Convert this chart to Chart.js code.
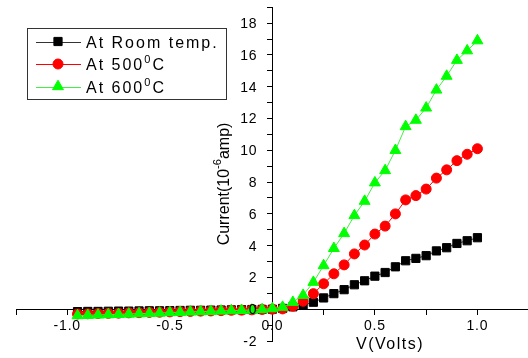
<!DOCTYPE html>
<html>
<head>
<meta charset="utf-8">
<script src="https://cdn.jsdelivr.net/npm/chart.js@4/dist/chart.umd.min.js"></script>
<style>
  html, body { margin: 0; padding: 0; background: #fff; overflow: hidden; }
  #wrap { width: 528px; height: 358px; overflow: hidden; }
</style>
</head>
<body>
<div id="wrap"><canvas id="ivChart" width="536" height="358"></canvas></div>
<script>
// voltage points (V)
const volts = [
    -0.95, -0.90, -0.85, -0.80, -0.75, -0.70, -0.65, -0.60, -0.55, -0.50,
    -0.45, -0.40, -0.35, -0.30, -0.25, -0.20, -0.15, -0.10, -0.05, 0.00,
    0.05, 0.10, 0.15, 0.20, 0.25, 0.30, 0.35, 0.40, 0.45, 0.50,
    0.55, 0.60, 0.65, 0.70, 0.75, 0.80, 0.85, 0.90, 0.95, 1.00
];

// current in 10^-6 amp
const roomTemp = [
    -0.15, -0.14, -0.14, -0.13, -0.12, -0.12, -0.11, -0.10, -0.10, -0.09,
    -0.08, -0.07, -0.07, -0.06, -0.05, -0.04, -0.03, -0.02, -0.01, 0.00,
    0.05, 0.15, 0.25, 0.44, 0.71, 0.98, 1.23, 1.54, 1.79, 2.08,
    2.31, 2.67, 3.05, 3.20, 3.37, 3.67, 3.87, 4.14, 4.31, 4.50
];
const temp500 = [
    -0.30, -0.29, -0.27, -0.26, -0.25, -0.23, -0.22, -0.20, -0.19, -0.17,
    -0.15, -0.14, -0.12, -0.11, -0.09, -0.07, -0.06, -0.04, -0.02, 0.00,
    0.02, 0.19, 0.50, 0.98, 1.60, 2.23, 2.79, 3.48, 4.04, 4.73,
    5.23, 6.00, 6.88, 7.15, 7.56, 8.25, 8.77, 9.35, 9.75, 10.10
];
const temp600 = [
    -0.40, -0.38, -0.36, -0.34, -0.32, -0.30, -0.28, -0.26, -0.24, -0.21,
    -0.19, -0.17, -0.15, -0.13, -0.11, -0.09, -0.07, -0.05, -0.02, 0.04,
    0.13, 0.44, 0.88, 1.70, 2.75, 3.83, 4.77, 5.90, 6.80, 7.96,
    8.73, 10.00, 11.50, 11.90, 12.67, 13.80, 14.67, 15.67, 16.27, 16.90
];

const seriesLabels = ["At Room temp.", "At 500", "At 600"];
const xTickLabels = ["-1.0", "-0.5", "0.0", "0.5", "1.0"];
const yTickValues = [-2, 0, 2, 4, 6, 8, 10, 12, 14, 16, 18];

const FONT = "'Liberation Sans', Arial, sans-serif";

function toPoints(ys) {
    return volts.map((v, i) => ({ x: v, y: ys[i] }));
}

function zeroSize(scale) {
    if (scale.isHorizontal()) scale.height = 0; else scale.width = 0;
    scale.paddingLeft = scale.paddingRight = scale.paddingTop = scale.paddingBottom = 0;
}

const datasets = [
    {
        label: seriesLabels[0],
        data: toPoints(roomTemp),
        borderColor: "#333333",
        backgroundColor: "#000000",
        pointBorderColor: "#000000",
        pointStyle: "rect",
        pointRadius: 5.8,
        borderWidth: 1,
        order: 2,
    },
    {
        label: seriesLabels[1],
        data: toPoints(temp500),
        borderColor: "#ff0000",
        backgroundColor: "#ff0000",
        pointBorderColor: "#ff0000",
        pointStyle: "circle",
        pointRadius: 5,
        borderWidth: 1,
        order: 1,
    },
    {
        label: seriesLabels[2],
        data: toPoints(temp600),
        borderColor: "#44ee44",
        backgroundColor: "#00ff00",
        pointBorderColor: "#00ff00",
        pointStyle: "triangle",
        pointRadius: 6.3,
        borderWidth: 1,
        order: 0,
    },
];

// legend, y tick labels, axis titles with superscripts
const decorations = {
    id: "decorations",
    beforeDraw(chart) {
        chart.ctx.letterSpacing = "0.8px";
    },
    afterDraw(chart) {
        const ctx = chart.ctx;
        const yScale = chart.scales.y;
        const xScale = chart.scales.x;
        ctx.save();

        // y tick labels, left of the axis line
        ctx.letterSpacing = "0.8px";
        ctx.font = "14px " + FONT;
        ctx.fillStyle = "#000000";
        ctx.textAlign = "right";
        ctx.textBaseline = "middle";
        const axisX = xScale.getPixelForValue(0);
        yTickValues.forEach(v => {
            ctx.fillText(String(v), axisX - 15, yScale.getPixelForValue(v) + 1);
        });

        // legend box
        ctx.letterSpacing = "2px";
        ctx.fillStyle = "#ffffff";
        ctx.fillRect(27.5, 28.5, 199, 71);
        ctx.strokeStyle = "#333333";
        ctx.lineWidth = 1;
        ctx.strokeRect(27.5, 28.5, 199, 71);

        const rowY = [41.5, 64, 86.5];
        chart.data.datasets.forEach((ds, i) => {
            const y = rowY[i];
            ctx.strokeStyle = ds.borderColor;
            ctx.lineWidth = 1;
            ctx.beginPath();
            ctx.moveTo(36, Math.round(y) + 0.5);
            ctx.lineTo(81, Math.round(y) + 0.5);
            ctx.stroke();
            ctx.fillStyle = ds.backgroundColor;
            ctx.strokeStyle = ds.pointBorderColor;
            Chart.helpers.drawPoint(ctx, {
                pointStyle: ds.pointStyle,
                radius: ds.pointRadius,
                rotation: 0,
                borderWidth: 1,
            }, 58, y);

            ctx.fillStyle = "#000000";
            ctx.textBaseline = "alphabetic";
            ctx.textAlign = "left";
            ctx.font = "16px " + FONT;
            let x = 86;
            const base = y + 6;
            ctx.fillText(ds.label, x, base);
            if (i > 0) {
                x += ctx.measureText(ds.label).width;
                ctx.font = "11px " + FONT;
                ctx.fillText("0", x, base - 7);
                x += ctx.measureText("0").width;
                ctx.font = "16px " + FONT;
                ctx.fillText("C", x, base);
            }
        });

        // x title
        ctx.letterSpacing = "1.5px";
        ctx.font = "16px " + FONT;
        ctx.textAlign = "left";
        const xt = "V(Volts)";
        ctx.fillText(xt, 390 - ctx.measureText(xt).width / 2, 349);

        // y title, rotated
        ctx.letterSpacing = "0px";
        ctx.translate(229, 184);
        ctx.rotate(-Math.PI / 2);
        const parts = [
            { t: "Current(10", f: 16, dy: 0 },
            { t: "-6", f: 11, dy: -8 },
            { t: "amp)", f: 16, dy: 0 },
        ];
        let total = 0;
        parts.forEach(p => {
            ctx.font = p.f + "px " + FONT;
            p.w = ctx.measureText(p.t).width;
            total += p.w;
        });
        let px = -total / 2;
        parts.forEach(p => {
            ctx.font = p.f + "px " + FONT;
            ctx.fillText(p.t, px, p.dy);
            px += p.w;
        });

        ctx.restore();
    },
};

new Chart(document.getElementById("ivChart"), {
    type: "line",
    data: { datasets: datasets },
    options: {
        responsive: false,
        animation: false,
        devicePixelRatio: 1,
        layout: { padding: { left: 16, right: 5, top: 5, bottom: 17 } },
        plugins: {
            legend: { display: false },
            tooltip: { enabled: false },
        },
        scales: {
            x: {
                type: "linear",
                min: -1.25,
                max: 1.25,
                position: { y: 0 },
                afterFit: zeroSize,
                border: { color: "#000000", width: 1 },
                grid: {
                    drawOnChartArea: false,
                    drawTicks: true,
                    tickLength: 5,
                    color: "#000000",
                },
                ticks: {
                    stepSize: 0.25,
                    autoSkip: false,
                    maxRotation: 0,
                    padding: 4,
                    color: "#000000",
                    font: { size: 14, family: FONT },
                    callback: (v) => {
                        const k = Math.round(v * 2);
                        if (Math.abs(v * 2 - k) > 1e-6) return "";
                        const idx = k + 2;
                        return xTickLabels[idx] !== undefined ? xTickLabels[idx] : "";
                    },
                },
            },
            y: {
                type: "linear",
                min: -2,
                max: 19,
                position: { x: 0 },
                afterFit: zeroSize,
                border: { color: "#000000", width: 1 },
                grid: {
                    drawOnChartArea: false,
                    drawTicks: true,
                    tickLength: 5,
                    color: "#000000",
                },
                ticks: {
                    stepSize: 1,
                    autoSkip: false,
                    color: "rgba(0,0,0,0)",
                    font: { size: 14, family: FONT },
                },
            },
        },
    },
    plugins: [decorations],
});
</script>
</body>
</html>
